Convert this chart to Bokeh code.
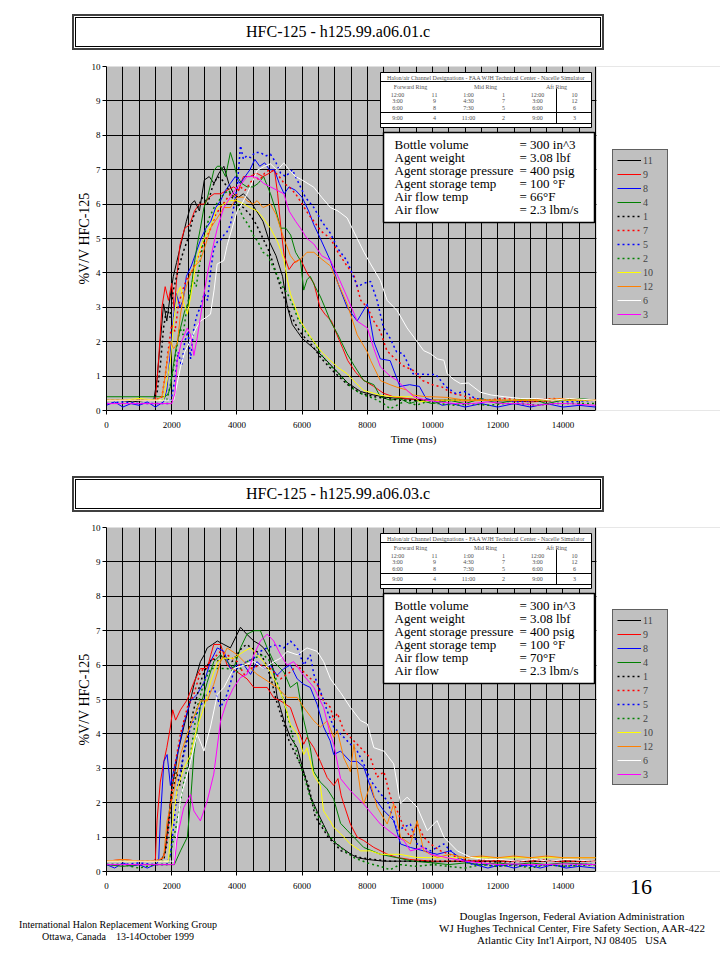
from bokeh.plotting import figure
from bokeh.models import Range1d, FixedTicker, Legend, LegendItem, Div
from bokeh.layouts import column
from bokeh.embed import file_html
from bokeh.resources import INLINE
from bokeh.core.properties import value

# ---------------- data ----------------
TITLE_1 = "HFC-125 - h125.99.a06.01.c"
TITLE_2 = "HFC-125 - h125.99.a06.03.c"
CHANNELS = ["11", "9", "8", "4", "1", "7", "5", "2", "10", "12", "6", "3"]
X_MAX = 15000
X_TICKS = [0, 2000, 4000, 6000, 8000, 10000, 12000, 14000]
X_MINOR = list(range(0, 15001, 500))
Y_TICKS = list(range(0, 11))

TABLE_HEADER = "Halon/air Channel Designations - FAA WJH Technical Center - Nacelle Simulator"
TABLE_RINGS = ["Forward Ring", "Mid Ring", "Aft Ring"]
TABLE_ROWS = [["12:00", "11", "1:00", "1", "12:00", "10"],
              ["3:00", "9", "4:30", "7", "3:00", "12"],
              ["6:00", "8", "7:30", "5", "6:00", "6"],
              ["9:00", "4", "11:00", "2", "9:00", "3"]]
INFO_LABELS = ["Bottle volume", "Agent weight", "Agent storage pressure",
               "Agent storage temp", "Air flow temp", "Air flow"]
INFO_VALUES_1 = ["= 300 in^3", "= 3.08 lbf", "= 400 psig", "= 100 °F", "= 66°F", "= 2.3 lbm/s"]
INFO_VALUES_2 = ["= 300 in^3", "= 3.08 lbf", "= 400 psig", "= 100 °F", "= 70°F", "= 2.3 lbm/s"]
FOOT_LEFT = ["International Halon Replacement Working Group", "Ottawa, Canada &nbsp;&nbsp;&nbsp;13-14October 1999"]
FOOT_RIGHT = ["Douglas Ingerson, Federal Aviation Administration",
              "WJ Hughes Technical Center, Fire Safety Section, AAR-422",
              "Atlantic City Int'l Airport, NJ 08405 &nbsp;&nbsp;USA"]
PAGE_NO = "16"

# chart 1 (a06.01): (time ms, %V/V)
S1_11 = [(0,0.30),(400,0.30),(800,0.25),(1200,0.30),(1450,0.30),(1550,0.9),(1650,2.0),(1750,3.1),(1850,2.6),(1950,3.3),(2050,3.9),(2150,4.3),(2300,4.9),(2450,5.5),(2600,6.0),(2700,6.1),(2850,5.8),(3000,6.7),(3150,6.8),(3300,6.6),(3450,6.9),(3600,7.1),(3750,6.6),(3900,6.3),(4050,6.2),(4200,6.3),(4400,6.1),(4600,5.8),(4800,5.5),(5000,4.9),(5200,4.5),(5400,3.9),(5550,3.0),(5700,2.5),(5850,2.3),(6000,2.1),(6300,1.85),(6600,1.6),(7000,1.2),(7400,0.8),(7800,0.55),(8200,0.45),(8600,0.38),(9000,0.35),(9500,0.32),(10000,0.3),(11000,0.3),(12000,0.28),(13000,0.3),(14000,0.3),(15000,0.3)]
S1_9 = [(0,0.3),(400,0.3),(800,0.3),(1200,0.3),(1500,0.3),(1600,1.5),(1700,3.0),(1800,3.6),(1900,3.2),(2000,3.7),(2080,2.9),(2150,3.8),(2250,4.8),(2400,5.3),(2550,5.4),(2700,5.8),(2850,6.0),(3000,6.0),(3150,6.2),(3300,6.3),(3500,6.3),(3700,6.4),(3900,6.5),(4050,6.4),(4200,6.8),(4400,6.8),(4600,6.9),(4800,6.8),(5000,6.9),(5150,7.0),(5250,6.3),(5350,5.3),(5450,4.5),(5600,4.1),(5750,4.3),(5950,4.4),(6150,4.0),(6360,3.7),(6550,3.0),(6700,2.8),(6900,2.6),(7070,2.2),(7250,1.8),(7400,1.45),(7650,1.1),(7900,0.87),(8200,0.7),(8500,0.5),(8800,0.4),(9200,0.35),(9600,0.3),(10000,0.3),(11000,0.28),(12000,0.3),(13000,0.25),(14000,0.3),(15000,0.3)]
S1_8 = [(0,0.15),(250,0.25),(500,0.1),(750,0.2),(1000,0.15),(1250,0.25),(1500,0.1),(1750,0.25),(1850,0.6),(1950,1.6),(2050,2.7),(2150,3.4),(2250,3.0),(2350,3.2),(2450,3.9),(2600,4.2),(2750,4.6),(2900,5.0),(3050,5.3),(3200,5.5),(3350,5.9),(3500,6.1),(3650,6.4),(3800,6.6),(3950,6.8),(4100,6.6),(4250,6.8),(4400,7.0),(4550,7.3),(4700,7.1),(4850,7.2),(5000,7.0),(5150,7.0),(5300,6.6),(5450,6.3),(5600,6.5),(5800,6.4),(6000,6.2),(6200,5.8),(6360,5.4),(6560,5.0),(6870,4.35),(7100,3.7),(7380,3.0),(7690,2.6),(8000,3.1),(8200,2.0),(8400,1.5),(8700,1.45),(9000,0.7),(9300,0.75),(9600,0.7),(9800,0.35),(10000,0.3),(10300,0.15),(10600,0.2),(11000,0.1),(11500,0.2),(12000,0.1),(12500,0.2),(13000,0.1),(13500,0.2),(14000,0.1),(14500,0.15),(15000,0.1)]
S1_4 = [(0,0.4),(500,0.4),(1000,0.4),(1500,0.4),(1800,0.4),(1900,0.5),(1960,0.7),(2050,1.3),(2150,1.9),(2270,2.4),(2400,2.9),(2500,3.1),(2580,3.4),(2680,4.2),(2780,4.8),(2880,5.3),(2990,5.9),(3100,6.2),(3200,6.6),(3290,6.97),(3400,7.1),(3500,7.1),(3650,6.8),(3800,7.5),(3900,7.2),(4010,6.8),(4150,6.6),(4310,6.5),(4500,6.5),(4650,6.6),(4820,6.8),(5030,6.3),(5200,5.8),(5340,5.3),(5500,5.3),(5650,5.1),(5800,4.6),(5950,4.36),(6050,3.5),(6150,3.8),(6250,3.9),(6400,3.6),(6565,3.3),(6700,3.0),(6870,2.6),(7100,2.2),(7380,1.65),(7600,1.3),(7890,0.87),(8200,0.75),(8400,0.4),(8700,0.3),(9000,0.35),(9300,0.2),(9600,0.3),(10000,0.2),(10500,0.3),(11000,0.2),(11500,0.35),(12000,0.2),(12500,0.3),(13000,0.35),(13500,0.2),(14000,0.3),(14500,0.35),(15000,0.3)]
S1_1 = [(0,0.3),(500,0.3),(1000,0.3),(1400,0.3),(1550,0.5),(1650,1.3),(1750,2.4),(1850,3.0),(1950,2.7),(2050,3.5),(2200,4.1),(2350,4.6),(2500,5.0),(2650,5.6),(2800,5.9),(2950,6.2),(3100,6.0),(3250,6.5),(3400,6.8),(3550,6.7),(3700,6.5),(3850,6.2),(4000,6.0),(4200,5.9),(4400,5.7),(4600,5.4),(4800,5.0),(5000,4.6),(5200,4.0),(5400,3.4),(5600,2.9),(5800,2.5),(6000,2.2),(6300,1.9),(6600,1.5),(7000,1.1),(7400,0.75),(7800,0.5),(8200,0.4),(8600,0.35),(9000,0.3),(9500,0.3),(10000,0.28),(11000,0.3),(12000,0.3),(13000,0.28),(14000,0.3),(15000,0.3)]
S1_7 = [(0,0.3),(500,0.3),(1000,0.3),(1500,0.3),(1700,0.4),(1800,1.0),(1900,1.8),(2000,2.5),(2100,2.3),(2200,3.0),(2300,3.4),(2450,3.8),(2600,4.0),(2750,4.3),(2900,4.7),(3050,5.0),(3200,5.3),(3350,5.7),(3500,5.9),(3650,6.1),(3800,6.3),(3950,6.2),(4100,6.5),(4250,6.4),(4400,6.6),(4550,6.8),(4700,6.7),(4850,6.9),(5000,7.0),(5150,6.95),(5300,6.8),(5450,6.6),(5600,6.5),(5800,6.3),(6000,6.0),(6200,5.7),(6360,5.5),(6600,5.2),(6870,5.0),(7100,4.6),(7380,4.2),(7600,3.9),(7800,3.2),(8000,3.0),(8200,2.6),(8400,2.3),(8600,1.74),(8800,1.55),(9100,1.3),(9400,1.17),(9700,0.87),(10000,0.75),(10300,0.68),(10600,0.5),(10900,0.44),(11200,0.35),(11700,0.3),(12200,0.35),(12700,0.3),(13200,0.3),(13700,0.35),(14200,0.3),(15000,0.3)]
S1_5 = [(0,0.2),(500,0.25),(1000,0.2),(1500,0.2),(1900,0.2),(2000,0.4),(2100,0.9),(2200,1.7),(2300,1.3),(2400,2.0),(2500,2.3),(2580,1.5),(2680,2.4),(2780,2.8),(2880,3.0),(3000,3.4),(3100,3.2),(3200,4.1),(3290,4.7),(3400,4.9),(3500,4.95),(3600,5.1),(3700,5.2),(3800,5.4),(3900,5.9),(4010,6.5),(4110,7.7),(4200,7.3),(4300,7.4),(4420,7.35),(4550,7.5),(4720,7.5),(4880,7.4),(5030,7.45),(5200,7.2),(5340,6.9),(5500,6.8),(5700,7.0),(5900,6.6),(6100,6.2),(6360,5.9),(6600,5.5),(6870,5.15),(7100,4.7),(7380,4.35),(7700,3.6),(7900,3.7),(8100,3.75),(8300,3.2),(8500,2.4),(8700,2.1),(8900,1.7),(9100,1.65),(9400,1.07),(9800,1.05),(10100,1.05),(10400,0.7),(10700,0.5),(11000,0.55),(11300,0.35),(11700,0.3),(12200,0.3),(12700,0.25),(13200,0.3),(13700,0.3),(14200,0.25),(15000,0.3)]
S1_2 = [(0,0.3),(500,0.3),(1000,0.3),(1500,0.3),(1850,0.3),(1950,0.7),(2050,1.2),(2150,1.8),(2250,2.4),(2350,2.2),(2450,2.9),(2550,3.4),(2650,3.8),(2750,3.6),(2850,4.2),(2950,4.8),(3050,5.3),(3150,5.6),(3300,5.9),(3450,6.1),(3600,6.3),(3750,6.4),(3900,6.2),(4050,5.9),(4200,5.6),(4350,5.4),(4500,5.1),(4650,4.9),(4800,4.6),(4950,4.5),(5100,4.2),(5250,3.9),(5400,3.6),(5550,3.4),(5700,3.1),(5900,2.6),(6100,2.3),(6360,2.0),(6600,1.6),(6870,1.3),(7100,1.1),(7380,0.8),(7600,0.6),(7900,0.45),(8200,0.35),(8500,0.2),(8700,0.05),(8900,0.15),(9200,0.3),(9500,0.15),(9800,0.25),(10200,0.2),(10700,0.15),(11200,0.2),(11700,0.15),(12200,0.2),(12700,0.2),(13200,0.15),(13700,0.2),(14200,0.2),(15000,0.2)]
S1_10 = [(0,0.3),(500,0.3),(1000,0.35),(1500,0.3),(1750,0.3),(1850,0.8),(1960,1.45),(2060,2.6),(2170,3.4),(2270,3.6),(2380,3.1),(2480,2.8),(2580,3.3),(2680,3.9),(2780,4.4),(2900,4.8),(3000,5.0),(3100,5.2),(3250,5.5),(3400,5.9),(3600,6.0),(3800,6.1),(4000,6.1),(4220,6.0),(4400,5.9),(4620,5.8),(4800,5.6),(5030,5.3),(5250,4.9),(5440,4.4),(5550,3.8),(5640,3.4),(5750,3.1),(5950,2.6),(6150,2.3),(6360,2.0),(6600,1.7),(6870,1.45),(7100,1.25),(7380,1.07),(7650,0.8),(7890,0.58),(8200,0.5),(8400,0.44),(8800,0.4),(9200,0.4),(9430,0.4),(9600,0.25),(10000,0.3),(11000,0.3),(12000,0.3),(13000,0.3),(14000,0.3),(15000,0.3)]
S1_12 = [(0,0.3),(500,0.3),(1000,0.3),(1500,0.3),(1700,0.4),(1800,1.0),(1860,1.45),(1960,2.0),(2060,1.8),(2170,1.94),(2270,2.8),(2380,3.4),(2480,3.7),(2580,4.0),(2700,4.2),(2880,4.36),(3000,4.7),(3100,5.0),(3190,5.3),(3400,5.6),(3600,5.9),(3800,5.9),(4010,6.2),(4200,6.2),(4310,6.1),(4500,6.0),(4620,6.1),(4800,5.9),(5030,6.0),(5200,5.7),(5440,5.0),(5640,4.5),(5800,4.3),(5950,4.4),(6150,4.6),(6360,4.6),(6600,4.4),(6870,4.2),(7100,3.7),(7380,3.1),(7690,2.2),(8000,1.7),(8100,1.46),(8400,0.87),(8700,0.75),(8900,0.68),(9200,0.6),(9400,0.45),(9800,0.4),(10000,0.4),(10450,0.38),(11000,0.3),(12000,0.3),(13000,0.3),(14000,0.35),(15000,0.3)]
S1_6 = [(0,0.3),(500,0.3),(1000,0.3),(1500,0.3),(1900,0.3),(2065,0.3),(2170,0.8),(2270,1.26),(2400,1.7),(2580,2.04),(2750,2.4),(2880,2.6),(3050,2.7),(3190,2.8),(3300,3.5),(3395,4.26),(3600,4.36),(3700,4.8),(3800,5.13),(4010,5.81),(4150,6.0),(4315,6.3),(4500,6.7),(4620,6.98),(4850,7.1),(5030,7.17),(5235,6.98),(5440,7.2),(5600,7.0),(5800,6.8),(6000,6.7),(6360,6.49),(6600,6.2),(6870,5.9),(7100,5.8),(7380,5.6),(7690,5.0),(7900,4.6),(8100,4.26),(8400,3.78),(8610,3.2),(8920,2.9),(9220,2.4),(9430,2.13),(9730,1.74),(9940,1.65),(10150,1.5),(10350,1.46),(10450,1.07),(10650,0.9),(10860,0.78),(11100,0.8),(11470,0.53),(11800,0.45),(12200,0.4),(12700,0.35),(13200,0.35),(13700,0.3),(14200,0.35),(15000,0.3)]
S1_3 = [(0,0.2),(500,0.2),(1000,0.2),(1500,0.2),(2000,0.2),(2100,0.5),(2170,1.45),(2300,2.0),(2480,2.4),(2580,2.2),(2680,1.6),(2780,2.1),(2880,2.7),(2990,3.4),(3100,4.0),(3190,4.4),(3300,4.9),(3400,5.3),(3500,5.6),(3600,5.9),(3800,6.2),(4010,6.5),(4150,6.6),(4310,6.8),(4500,6.8),(4650,6.75),(4820,6.6),(5030,6.5),(5240,6.4),(5440,6.3),(5600,5.8),(5800,5.5),(5950,5.3),(6150,5.0),(6360,4.84),(6600,4.5),(6870,4.36),(7100,3.9),(7380,3.3),(7690,2.6),(8000,2.4),(8200,1.8),(8400,1.27),(8700,1.0),(8920,0.87),(9200,0.6),(9430,0.4),(9800,0.3),(10200,0.25),(10700,0.2),(11200,0.2),(11700,0.25),(12200,0.2),(12700,0.2),(13200,0.15),(13700,0.2),(14200,0.2),(15000,0.15)]

# chart 2 (a06.03)
S2_11 = [(0,0.3),(500,0.3),(1000,0.3),(1500,0.3),(1700,0.35),(1800,0.6),(1900,1.5),(2000,2.4),(2100,2.9),(2200,3.5),(2370,4.2),(2480,4.6),(2580,5.0),(2700,5.5),(2880,6.1),(3000,6.3),(3090,6.5),(3250,6.6),(3400,6.7),(3600,6.6),(3800,6.5),(4010,6.9),(4110,7.1),(4300,6.9),(4520,6.7),(4700,6.6),(4820,6.5),(5030,6.2),(5130,5.8),(5230,5.1),(5440,4.4),(5640,3.9),(5850,3.6),(6050,2.9),(6250,2.2),(6460,1.75),(6660,1.36),(6860,0.97),(6970,0.87),(7200,0.7),(7500,0.5),(7700,0.4),(8000,0.35),(8500,0.3),(9000,0.3),(9500,0.3),(10000,0.28),(11000,0.3),(12000,0.3),(13000,0.3),(14000,0.3),(15000,0.3)]
S2_9 = [(0,0.3),(500,0.35),(1000,0.3),(1400,0.3),(1500,0.35),(1550,1.47),(1650,2.6),(1760,3.2),(1850,3.6),(1960,4.2),(2030,4.7),(2120,4.4),(2270,4.7),(2480,5.0),(2680,5.5),(2880,5.9),(3090,5.9),(3200,6.3),(3290,6.6),(3500,6.6),(3700,6.0),(4010,5.8),(4310,5.6),(4520,5.35),(4930,5.35),(5130,5.05),(5340,4.96),(5640,4.77),(5850,4.2),(6050,3.7),(6150,3.9),(6360,3.6),(6560,3.2),(6770,2.73),(6970,2.5),(7100,2.7),(7200,2.2),(7280,1.96),(7480,1.38),(7690,1.0),(7890,0.9),(8200,0.7),(8600,0.51),(8900,0.41),(9300,0.35),(10000,0.3),(11000,0.3),(12000,0.3),(13000,0.3),(14000,0.3),(15000,0.3)]
S2_8 = [(0,0.2),(250,0.1),(500,0.25),(750,0.15),(1000,0.2),(1250,0.1),(1500,0.2),(1600,0.3),(1650,1.47),(1760,3.2),(1860,3.4),(1960,2.5),(2170,3.4),(2370,4.3),(2580,4.96),(2780,5.15),(2990,5.5),(3190,6.1),(3400,6.5),(3600,6.4),(3800,5.9),(4010,6.0),(4220,6.0),(4420,5.73),(4620,6.1),(4820,5.9),(5030,6.0),(5230,5.7),(5440,5.9),(5640,6.0),(5850,5.6),(6050,5.44),(6250,5.35),(6460,4.86),(6660,4.2),(6860,3.8),(6970,3.4),(7180,3.5),(7480,3.2),(7690,3.2),(7890,3.04),(8200,2.16),(8510,1.77),(8810,1.48),(9020,0.8),(9320,0.7),(9730,0.6),(10140,0.5),(10550,0.6),(10960,0.32),(11300,0.2),(11700,0.1),(12100,0.2),(12500,0.1),(12900,0.2),(13300,0.1),(13700,0.2),(14100,0.1),(14500,0.15),(15000,0.1)]
S2_4 = [(0,0.2),(500,0.15),(1000,0.2),(1500,0.2),(2000,0.2),(2080,0.2),(2270,0.6),(2480,1.0),(2580,2.06),(2680,3.4),(2880,4.8),(3090,5.5),(3290,6.1),(3500,6.3),(3700,6.1),(3900,5.9),(4110,6.5),(4310,6.9),(4520,7.0),(4720,7.0),(4930,6.5),(5130,6.1),(5440,5.8),(5640,5.35),(5850,5.5),(6050,4.4),(6250,3.6),(6360,2.9),(6560,2.6),(6770,2.4),(6970,2.1),(7180,1.4),(7380,1.2),(7890,0.7),(8400,0.5),(8916,0.4),(9400,0.3),(10000,0.25),(10500,0.2),(11000,0.25),(11500,0.2),(12000,0.25),(12500,0.2),(13000,0.25),(13500,0.2),(14000,0.25),(15000,0.2)]
S2_1 = [(0,0.3),(500,0.3),(1000,0.3),(1500,0.3),(1750,0.3),(1850,0.8),(1950,1.7),(2050,2.4),(2150,2.9),(2250,2.5),(2350,3.4),(2500,4.0),(2650,4.6),(2800,5.2),(2950,5.7),(3100,6.0),(3250,6.2),(3400,6.1),(3550,6.3),(3700,6.2),(3850,6.1),(4000,6.3),(4150,6.5),(4300,6.6),(4450,6.5),(4600,6.4),(4750,6.3),(4900,6.0),(5050,5.6),(5200,5.0),(5400,4.4),(5600,3.8),(5800,3.4),(6000,3.0),(6200,2.5),(6400,1.6),(6600,1.3),(6800,1.0),(7000,0.8),(7200,0.6),(7500,0.5),(7800,0.4),(8200,0.35),(8700,0.3),(9200,0.3),(10000,0.3),(11000,0.3),(12000,0.28),(13000,0.3),(14000,0.3),(15000,0.3)]
S2_7 = [(0,0.3),(500,0.3),(1000,0.3),(1500,0.3),(1750,0.4),(1860,1.0),(1960,2.0),(2080,3.0),(2270,4.0),(2480,4.77),(2680,5.15),(2880,5.8),(3090,6.0),(3190,6.1),(3500,6.4),(3700,6.3),(4010,6.1),(4220,5.73),(4420,5.9),(4720,6.0),(5030,5.9),(5340,5.6),(5640,5.8),(5850,6.0),(6150,5.7),(6460,5.44),(6660,4.96),(6870,4.77),(6970,4.4),(7080,4.6),(7280,4.1),(7480,3.9),(7690,3.7),(7890,3.5),(8100,3.3),(8300,2.74),(8510,2.9),(8710,2.16),(8916,1.77),(9120,1.29),(9320,1.0),(9530,1.38),(9730,1.0),(9940,0.8),(10250,0.6),(10760,0.41),(11200,0.3),(11700,0.35),(12200,0.3),(12700,0.3),(13200,0.35),(13700,0.3),(14200,0.3),(15000,0.3)]
S2_5 = [(0,0.2),(500,0.2),(1000,0.25),(1500,0.2),(1850,0.2),(1960,0.5),(2070,1.4),(2170,2.4),(2370,3.4),(2580,4.2),(2880,4.8),(3090,5.15),(3290,5.35),(3500,4.77),(3700,5.15),(3900,5.8),(4110,6.0),(4310,6.1),(4520,6.2),(4720,6.4),(4930,6.5),(5230,6.6),(5440,6.5),(5640,6.7),(5850,6.5),(6050,6.0),(6250,6.3),(6360,5.73),(6560,5.25),(6770,4.67),(6970,4.2),(7280,3.9),(7690,3.5),(7890,3.13),(8100,2.65),(8400,2.26),(8610,2.07),(8916,1.19),(9320,1.38),(9530,0.8),(9940,0.6),(10350,0.8),(10760,0.41),(11170,0.22),(11600,0.2),(12000,0.15),(12500,0.2),(13000,0.15),(13500,0.2),(14000,0.15),(14500,0.2),(15000,0.2)]
S2_2 = [(0,0.2),(500,0.2),(1000,0.1),(1500,0.2),(1900,0.2),(1960,0.5),(2170,1.47),(2370,2.6),(2580,3.4),(2780,4.77),(2990,5.5),(3190,5.9),(3400,5.9),(3700,5.9),(4010,5.8),(4310,6.1),(4520,6.2),(4820,6.3),(5030,6.1),(5230,5.5),(5440,4.96),(5640,4.2),(5850,3.4),(6050,2.8),(6250,2.15),(6460,1.67),(6660,1.28),(6860,1.0),(7070,0.8),(7300,0.6),(7600,0.4),(8000,0.25),(8400,0.15),(8700,0.05),(9000,0.2),(9500,0.15),(10000,0.2),(10500,0.15),(11000,0.1),(11500,0.2),(12000,0.15),(12500,0.2),(13000,0.1),(13500,0.2),(14000,0.15),(15000,0.2)]
S2_10 = [(0,0.3),(500,0.3),(1000,0.3),(1500,0.3),(1900,0.3),(1960,1.0),(2170,2.4),(2370,3.0),(2580,3.4),(2780,4.2),(2990,4.77),(3190,5.5),(3400,6.1),(3600,6.2),(3900,6.2),(4220,6.4),(4420,6.5),(4620,6.3),(4820,6.1),(5030,5.8),(5230,5.44),(5440,4.96),(5640,4.28),(5850,4.0),(6050,3.4),(6150,3.6),(6360,2.8),(6560,2.5),(6660,1.76),(6860,1.47),(6970,1.28),(7180,1.1),(7480,0.8),(7790,0.6),(8100,0.6),(8400,0.5),(9000,0.5),(9500,0.41),(10000,0.4),(11000,0.4),(12000,0.4),(13000,0.4),(14000,0.4),(15000,0.4)]
S2_12 = [(0,0.3),(500,0.35),(1000,0.3),(1500,0.3),(1750,0.4),(1860,1.47),(2080,2.4),(2270,3.4),(2480,4.0),(2680,4.5),(2880,4.96),(3090,4.96),(3290,5.44),(3500,6.1),(3700,6.5),(4010,6.3),(4220,6.1),(4420,5.9),(4620,5.73),(4930,5.54),(5230,5.35),(5540,5.06),(5850,5.06),(6050,4.77),(6360,4.38),(6560,4.2),(6770,4.38),(6970,3.9),(7080,4.1),(7280,3.3),(7480,2.9),(7590,3.7),(7790,2.35),(7890,1.96),(8100,2.55),(8300,1.87),(8610,1.38),(8810,1.96),(9020,1.0),(9320,0.8),(9530,1.48),(9730,0.6),(10140,0.41),(10550,0.5),(11000,0.4),(11500,0.45),(12000,0.4),(12500,0.45),(13000,0.4),(13500,0.45),(14000,0.4),(15000,0.4)]
S2_6 = [(0,0.3),(500,0.3),(1000,0.3),(1500,0.3),(2000,0.3),(2080,0.3),(2170,1.2),(2270,2.15),(2480,2.83),(2580,3.2),(2780,4.0),(2990,3.5),(3190,4.2),(3400,5.15),(3600,5.35),(3900,5.9),(4220,6.0),(4520,6.1),(4820,5.9),(5130,6.1),(5340,6.2),(5540,6.4),(5850,6.3),(6150,6.5),(6460,6.4),(6660,6.1),(6870,5.6),(7180,5.2),(7480,4.77),(7790,4.39),(8000,4.29),(8200,3.6),(8510,3.5),(8810,3.13),(9020,1.97),(9220,2.16),(9530,1.87),(9840,1.19),(10140,1.48),(10350,1.0),(10760,0.6),(11170,0.41),(11600,0.35),(12100,0.35),(12600,0.3),(13100,0.35),(13600,0.3),(14100,0.35),(15000,0.3)]
S2_3 = [(0,0.2),(500,0.2),(1000,0.2),(1500,0.2),(2000,0.2),(2080,0.2),(2170,1.0),(2370,1.86),(2580,2.24),(2680,1.76),(2880,1.47),(3090,2.05),(3290,2.83),(3500,4.38),(3700,4.96),(3900,5.35),(4110,5.64),(4310,5.73),(4520,6.3),(4720,6.7),(4930,6.9),(5130,6.7),(5340,6.3),(5540,6.0),(5740,6.1),(6050,5.7),(6360,5.35),(6660,4.77),(6860,4.0),(6970,3.7),(7180,2.7),(7480,2.35),(7890,1.96),(8400,1.38),(8916,1.0),(9120,0.9),(9320,0.6),(9730,0.7),(9940,0.5),(10450,0.4),(11000,0.3),(11500,0.25),(12000,0.2),(12500,0.22),(13000,0.2),(13500,0.2),(14000,0.22),(15000,0.2)]

SERIES_1 = {"11": S1_11, "9": S1_9, "8": S1_8, "4": S1_4, "1": S1_1, "7": S1_7,
            "5": S1_5, "2": S1_2, "10": S1_10, "12": S1_12, "6": S1_6, "3": S1_3}
SERIES_2 = {"11": S2_11, "9": S2_9, "8": S2_8, "4": S2_4, "1": S2_1, "7": S2_7,
            "5": S2_5, "2": S2_2, "10": S2_10, "12": S2_12, "6": S2_6, "3": S2_3}

# ---------------- styles / layout ----------------
STYLE = {"11": ("black", "solid"), "9": ("#ff0000", "solid"), "8": ("#0000ff", "solid"),
         "4": ("#008000", "solid"), "1": ("black", "2 3"), "7": ("#ff0000", "2 3"),
         "5": ("#0000ff", "2 3"), "2": ("#008000", "2 3"), "10": ("#ffff00", "solid"),
         "12": ("#ff8000", "solid"), "6": ("white", "solid"), "3": ("#ff00ff", "solid")}
FONT = "Liberation Serif"
W = 720
FW, FH = 489, 344          # plotting-area size in px (0..15000 ms, 0..10 %)
ML = 106                   # left border
X_END = X_MAX * (W - ML) / FW   # frame continues to the page edge (room for the legend)


def title_div(text, h, top):
    html = (
        f'<div style="position:relative;width:{W}px;height:{h}px;">'
        f'<div style="position:absolute;left:72px;top:{top}px;width:532px;height:36px;'
        'box-sizing:border-box;border:2px solid #404040;padding:1px;background:#fff;">'
        '<div style="box-sizing:border-box;width:100%;height:100%;border:1px solid #000;'
        f"text-align:center;font-family:'{FONT}';font-size:16px;line-height:28px;color:#000;"
        f'white-space:nowrap;">{text}</div></div></div>'
    )
    return Div(text=html, width=W, height=h, margin=0)


def chart(series, info_values, height, top, bottom, legend_vy):
    p = figure(width=W, height=height, x_range=Range1d(0, X_END), y_range=Range1d(0, 10),
               output_backend="svg", toolbar_location=None,
               min_border_left=ML, min_border_right=0, min_border_top=top,
               min_border_bottom=bottom, background_fill_color="#c0c0c0",
               border_fill_color="white", outline_line_color=None)

    def X(px):
        return px * X_MAX / FW

    def Y(py):
        return 10 - py * 10 / FH

    p.xaxis.ticker = FixedTicker(ticks=X_TICKS, minor_ticks=X_MINOR)
    p.xaxis.bounds = (0, X_MAX)
    p.yaxis.ticker = FixedTicker(ticks=Y_TICKS)
    p.xgrid.grid_line_color = "black"
    p.xgrid.minor_grid_line_color = "black"
    p.ygrid.grid_line_color = "black"
    for g in (p.xgrid, p.ygrid):
        g.grid_line_alpha = 1
        g.grid_line_width = 1
    p.xgrid.minor_grid_line_alpha = 1
    for ax in (p.xaxis, p.yaxis):
        ax.axis_line_color = "black"
        ax.major_tick_line_color = "black"
        ax.major_tick_out = 4
        ax.major_tick_in = 0
        ax.minor_tick_out = 0
        ax.minor_tick_in = 0
        ax.major_label_text_font = FONT
        ax.major_label_text_font_size = "9px"
        ax.major_label_text_color = "black"
        ax.axis_label_text_font = FONT
        ax.axis_label_text_font_style = "normal"
        ax.axis_label_text_color = "black"
    p.xaxis.axis_label = "Time (ms)"
    p.xaxis.axis_label_text_font_size = "11px"
    p.xaxis.major_label_standoff = 7
    p.xaxis.axis_label_standoff = 2
    p.yaxis.axis_label = "%V/V HFC-125"
    p.yaxis.axis_label_text_font_size = "14px"
    p.yaxis.major_label_standoff = 2
    p.yaxis.axis_label_standoff = -3

    # white page to the right of the plotting area (legend sits there)
    p.quad(left=[X(FW + 1)], right=[X_END], top=[10], bottom=[0], fill_color="white",
           line_color=None)

    items = []
    for ch in CHANNELS:
        data = series[ch]
        color, dash = STYLE[ch]
        r = p.line([d[0] for d in data], [d[1] for d in data], line_color=color,
                   line_width=1.5 if dash != "solid" else 1.0, line_dash=dash)
        items.append(LegendItem(label=ch, renderers=[r]))
    leg = Legend(items=items, location=(FW + 17, legend_vy), padding=4, spacing=2, margin=0,
                 glyph_width=24, glyph_height=12, label_height=12, label_standoff=2,
                 label_text_font=FONT, label_text_font_size="10px",
                 background_fill_color="#c0c0c0", background_fill_alpha=1,
                 border_line_color="black", border_line_width=1)
    p.add_layout(leg)

    # channel designation table
    tl, tr = 274, 485
    p.quad(left=[X(tl)], right=[X(tr)], top=[Y(6)], bottom=[Y(61)], fill_color="white",
           line_color="black", line_width=1, level="overlay")
    p.segment(x0=[X(tl)] * 3, x1=[X(tr)] * 3, y0=[Y(15), Y(46), Y(57)],
              y1=[Y(15), Y(46), Y(57)], line_color="black", line_width=1, level="overlay")
    p.segment(x0=[X(450)], x1=[X(450)], y0=[Y(22)], y1=[Y(57)], line_color="black",
              line_width=1, level="overlay")
    tx, ty, tt = [X(379.5)], [Y(11)], [TABLE_HEADER]
    for rx, rt in zip([304, 379, 450], TABLE_RINGS):
        tx.append(X(rx)); ty.append(Y(20)); tt.append(rt)
    col_x = [291, 328, 362, 397, 431, 468]
    for ry, row in zip([28, 34.5, 41, 51.5], TABLE_ROWS):
        for cx, cell in zip(col_x, row):
            tx.append(X(cx)); ty.append(Y(ry)); tt.append(cell)
    p.text(x=tx, y=ty, text=tt, text_align="center", text_baseline="middle",
           text_font=value(FONT), text_font_size="6px", text_color="#505050", level="overlay")

    # test parameter box
    p.quad(left=[X(277)], right=[X(488)], top=[Y(66)], bottom=[Y(156)], fill_color="white",
           line_color="black", line_width=1.5, level="overlay")
    iy = [Y(78 + 13 * i) for i in range(len(INFO_LABELS))]
    p.text(x=[X(288)] * len(INFO_LABELS), y=iy, text=INFO_LABELS, text_align="left",
           text_baseline="middle", text_font=value(FONT), text_font_size="13px",
           text_color="black", level="overlay")
    p.text(x=[X(413)] * len(info_values), y=iy, text=info_values, text_align="left",
           text_baseline="middle", text_font=value(FONT), text_font_size="13px",
           text_color="black", level="overlay")
    return p


t1 = title_div(TITLE_1, 60, 14)
c1 = chart(SERIES_1, INFO_VALUES_1, 408, 6, 58, 85)
t2 = title_div(TITLE_2, 52, 8)
c2 = chart(SERIES_2, INFO_VALUES_2, 390, 7, 39, 86)

foot_html = (
    f"<div style=\"position:relative;width:{W}px;height:50px;font-family:'{FONT}';color:#000;\">"
    f'<div style="position:absolute;left:600px;top:-34px;width:82px;text-align:center;'
    f'font-size:22px;line-height:22px;">{PAGE_NO}</div>'
    '<div style="position:absolute;left:0px;top:9px;width:236px;text-align:center;'
    'font-size:10px;line-height:12px;white-space:nowrap;">' + "<br>".join(FOOT_LEFT) + '</div>'
    '<div style="position:absolute;left:424px;top:0px;width:296px;text-align:center;'
    'font-size:11px;line-height:12px;white-space:nowrap;">' + "<br>".join(FOOT_RIGHT) + '</div>'
    '</div>'
)
foot = Div(text=foot_html, width=W, height=50, margin=0)

layout = column(t1, c1, t2, c2, foot, spacing=0)
open("out.html", "w").write(file_html(layout, INLINE, title="HFC-125"))
